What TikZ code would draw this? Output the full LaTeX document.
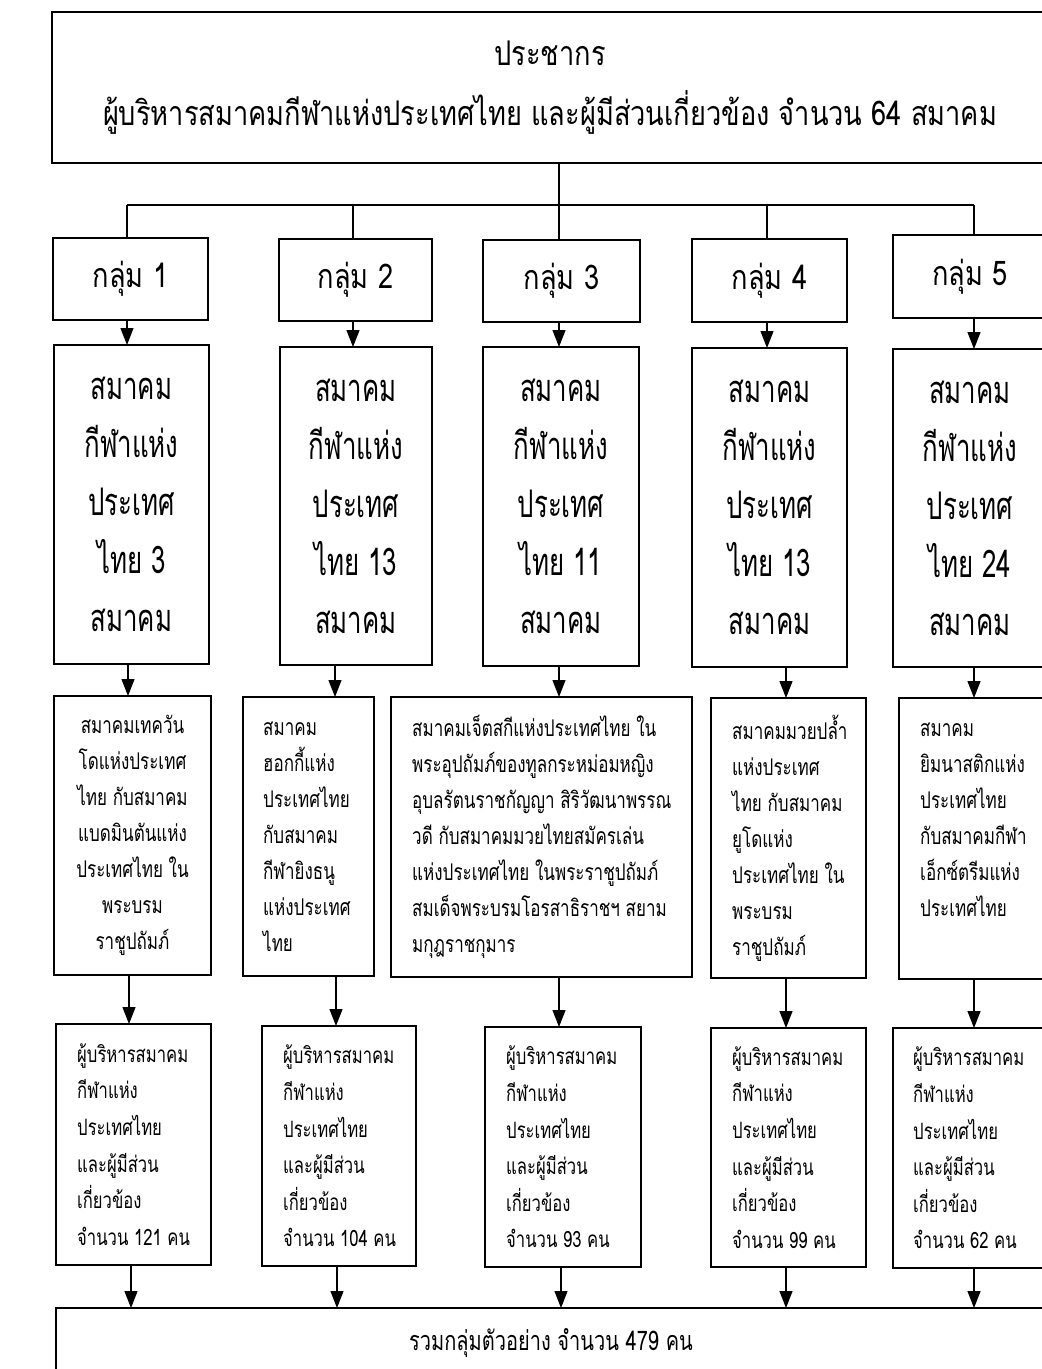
\documentclass[tikz,border=0pt]{standalone}
\usepackage{fontspec}
\newfontfamily\thaiA[Script=Thai,FakeStretch=0.8]{Loma}
\newfontfamily\thaiB[Script=Thai,FakeStretch=0.68]{Loma}
\newfontfamily\thaiC[Script=Thai,FakeStretch=0.74]{Loma}
\usetikzlibrary{arrows.meta}
\begin{document}
\begin{tikzpicture}[x=1pt,y=-1pt,
  box/.style={draw, line width=1.6pt, inner sep=0pt, outer sep=0pt},
  topfont/.style={font=\thaiA\fontsize{34pt}{60pt}\selectfont},
  grpfont/.style={font=\thaiA\fontsize{34pt}{40pt}\selectfont},
  socfont/.style={font=\thaiB\fontsize{38pt}{58pt}\selectfont},
  detfont/.style={font=\thaiC\fontsize{23pt}{36pt}\selectfont},
  resfont/.style={font=\thaiC\fontsize{22.5pt}{36.6pt}\selectfont},
  botfont/.style={font=\thaiC\fontsize{27pt}{36pt}\selectfont},
  ltext/.style={inner sep=0pt, align=left, anchor=west},
  conn/.style={line width=1.3pt},
  arr/.style={line width=1.3pt, -{Triangle[length=17pt,width=13pt]}}
]
\useasboundingbox (0,0) rectangle (1042,1369);
\fill[white] (0,0) rectangle (1042,1369);

% top box
\node[box, topfont, align=center, minimum width=996pt, minimum height=151pt] (top) at (550,87.5)
  {ประชากร\\ผู้บริหารสมาคมกีฬาแห่งประเทศไทย และผู้มีส่วนเกี่ยวข้อง จำนวน 64 สมาคม};

% group boxes
\node[box, grpfont, minimum width=155pt, minimum height=82pt] (g1) at (130.5,279) {กลุ่ม 1};
\node[box, grpfont, minimum width=153pt, minimum height=82pt] (g2) at (355.5,280) {กลุ่ม 2};
\node[box, grpfont, minimum width=157pt, minimum height=82pt] (g3) at (561.5,281) {กลุ่ม 3};
\node[box, grpfont, minimum width=155pt, minimum height=83pt] (g4) at (769.5,280.5) {กลุ่ม 4};
\node[box, grpfont, minimum width=154pt, minimum height=83pt] (g5) at (970,276.5) {กลุ่ม 5};

% society boxes
\node[box, socfont, align=center, minimum width=155pt, minimum height=319pt] (s1) at (131.5,504.5)
  {สมาคม\\กีฬาแห่ง\\ประเทศ\\ไทย 3\\สมาคม};
\node[box, socfont, align=center, minimum width=152pt, minimum height=318pt] (s2) at (356,506)
  {สมาคม\\กีฬาแห่ง\\ประเทศ\\ไทย 13\\สมาคม};
\node[box, socfont, align=center, minimum width=156pt, minimum height=319pt] (s3) at (561,506.5)
  {สมาคม\\กีฬาแห่ง\\ประเทศ\\ไทย 11\\สมาคม};
\node[box, socfont, align=center, minimum width=155pt, minimum height=319pt] (s4) at (769.5,507.5)
  {สมาคม\\กีฬาแห่ง\\ประเทศ\\ไทย 13\\สมาคม};
\node[box, socfont, align=center, minimum width=154pt, minimum height=318pt] (s5) at (970,508)
  {สมาคม\\กีฬาแห่ง\\ประเทศ\\ไทย 24\\สมาคม};

% detail boxes
\node[box, detfont, align=center, minimum width=157pt, minimum height=279pt] (d1) at (132.5,835.5)
  {สมาคมเทควัน\\โดแห่งประเทศ\\ไทย กับสมาคม\\แบดมินตันแห่ง\\ประเทศไทย ใน\\พระบรม\\ราชูปถัมภ์};
\node[box, minimum width=131pt, minimum height=279pt] (d2) at (308.5,836.5) {};
\node[ltext, detfont] (d2t) at ([xshift=20pt]d2.west)
  {สมาคม\\ฮอกกี้แห่ง\\ประเทศไทย\\กับสมาคม\\กีฬายิงธนู\\แห่งประเทศ\\ไทย};
\node[box, minimum width=301pt, minimum height=280pt] (d3) at (541.5,837) {};
\node[ltext, detfont] (d3t) at ([xshift=21pt]d3.west)
  {สมาคมเจ็ตสกีแห่งประเทศไทย ใน\\พระอุปถัมภ์ของทูลกระหม่อมหญิง\\อุบลรัตนราชกัญญา สิริวัฒนาพรรณ\\วดี กับสมาคมมวยไทยสมัครเล่น\\แห่งประเทศไทย ในพระราชูปถัมภ์\\สมเด็จพระบรมโอรสาธิราชฯ สยาม\\มกุฎราชกุมาร};
\node[box, minimum width=155pt, minimum height=280pt] (d4) at (788.5,838) {};
\node[ltext, detfont] (d4t) at ([xshift=21pt]d4.west)
  {สมาคมมวยปล้ำ\\แห่งประเทศ\\ไทย กับสมาคม\\ยูโดแห่ง\\ประเทศไทย ใน\\พระบรม\\ราชูปถัมภ์};
\node[box, minimum width=148pt, minimum height=281pt] (d5) at (973,838.5) {};
\node[ltext, detfont] (d5t) at ([xshift=21pt,yshift=19pt]d5.west)
  {สมาคม\\ยิมนาสติกแห่ง\\ประเทศไทย\\กับสมาคมกีฬา\\เอ็กซ์ตรีมแห่ง\\ประเทศไทย};

% result boxes
\node[box, minimum width=155pt, minimum height=241pt] (r1) at (133.5,1144.5) {};
\node[ltext, resfont] (r1t) at ([xshift=21pt]r1.west)
  {ผู้บริหารสมาคม\\กีฬาแห่ง\\ประเทศไทย\\และผู้มีส่วน\\เกี่ยวข้อง\\จำนวน 121 คน};
\node[box, minimum width=154pt, minimum height=240pt] (r2) at (339,1146) {};
\node[ltext, resfont] (r2t) at ([xshift=21pt]r2.west)
  {ผู้บริหารสมาคม\\กีฬาแห่ง\\ประเทศไทย\\และผู้มีส่วน\\เกี่ยวข้อง\\จำนวน 104 คน};
\node[box, minimum width=156pt, minimum height=240pt] (r3) at (563,1147) {};
\node[ltext, resfont] (r3t) at ([xshift=21pt]r3.west)
  {ผู้บริหารสมาคม\\กีฬาแห่ง\\ประเทศไทย\\และผู้มีส่วน\\เกี่ยวข้อง\\จำนวน 93 คน};
\node[box, minimum width=155pt, minimum height=239pt] (r4) at (788.5,1147.5) {};
\node[ltext, resfont] (r4t) at ([xshift=21pt]r4.west)
  {ผู้บริหารสมาคม\\กีฬาแห่ง\\ประเทศไทย\\และผู้มีส่วน\\เกี่ยวข้อง\\จำนวน 99 คน};
\node[box, minimum width=154pt, minimum height=240pt] (r5) at (970,1148) {};
\node[ltext, resfont] (r5t) at ([xshift=20pt]r5.west)
  {ผู้บริหารสมาคม\\กีฬาแห่ง\\ประเทศไทย\\และผู้มีส่วน\\เกี่ยวข้อง\\จำนวน 62 คน};

% bottom box
\node[box, botfont, minimum width=990pt, minimum height=70pt] (bot) at (551,1343)
  {รวมกลุ่มตัวอย่าง จำนวน 479 คน};

% tree connectors
\coordinate (j0) at (559,205);
\coordinate (j1) at (127,205);
\coordinate (j2) at (353,205);
\coordinate (j3) at (559,205);
\coordinate (j4) at (767,205);
\coordinate (j5) at (974,205);
\draw[conn] (top.south -| j0) -- (j0);
\draw[conn] (j1) -- (j5);
\foreach \i in {1,...,5} {
  \draw[conn] (j\i) -- (g\i.north -| j\i);
  \draw[arr] (g\i.south -| j\i) -- (s\i.north -| j\i);
}
% society -> detail
\coordinate (k1) at (128,0);
\coordinate (k2) at (335,0);
\coordinate (k3) at (559,0);
\coordinate (k4) at (786,0);
\coordinate (k5) at (974,0);
\foreach \i in {1,...,5} {
  \draw[arr] (s\i.south -| k\i) -- (d\i.north -| k\i);
}
% detail -> result
\coordinate (m1) at (129,0);
\coordinate (m2) at (336,0);
\coordinate (m3) at (559,0);
\coordinate (m4) at (786,0);
\coordinate (m5) at (974,0);
\foreach \i in {1,...,5} {
  \draw[arr] (d\i.south -| m\i) -- (r\i.north -| m\i);
}
% result -> bottom
\coordinate (n1) at (131,0);
\coordinate (n2) at (337,0);
\coordinate (n3) at (561,0);
\coordinate (n4) at (786,0);
\coordinate (n5) at (974,0);
\foreach \i in {1,...,5} {
  \draw[arr] (r\i.south -| n\i) -- (bot.north -| n\i);
}
\end{tikzpicture}
\end{document}
